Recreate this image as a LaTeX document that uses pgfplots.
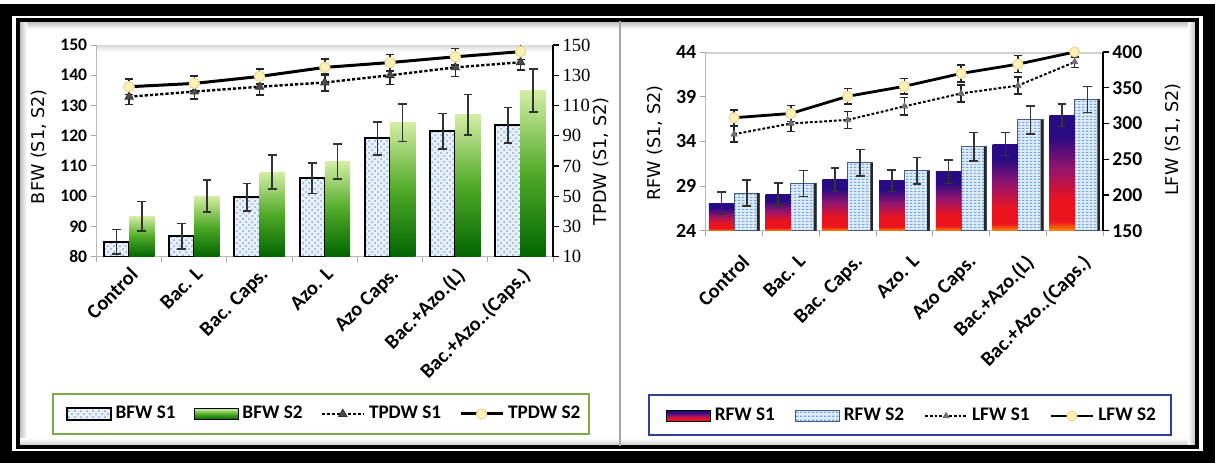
\documentclass[border=0pt]{standalone}
\usepackage{fontspec}
\setmainfont{Carlito}
\newfontfamily\dejavu{DejaVu Sans}
\newfontfamily\lserif{Liberation Serif}
\usepackage{pgfplots}
\usepackage{pgfplotstable}
\pgfplotsset{compat=1.18}
\usetikzlibrary{patterns}

\definecolor{bfwbg}{RGB}{232,240,250}
\definecolor{bfwdot}{RGB}{130,165,215}
\definecolor{gdark}{RGB}{0,100,0}
\definecolor{gmid}{RGB}{80,170,40}
\definecolor{glight}{RGB}{212,238,165}
\definecolor{rorange}{RGB}{255,140,0}
\definecolor{rred}{RGB}{235,20,30}
\definecolor{rpurple}{RGB}{150,20,110}
\definecolor{rindigo}{RGB}{40,10,130}
\definecolor{rfwbg}{RGB}{222,236,250}
\definecolor{rfwdash}{RGB}{120,165,215}
\definecolor{rfwedge}{RGB}{70,95,130}
\definecolor{mkyellow}{RGB}{255,242,185}
\definecolor{mkyedge}{RGB}{235,215,140}
\definecolor{leggreen}{RGB}{125,170,75}
\definecolor{legblue}{RGB}{45,65,150}

\pgfdeclareverticalshading{bfwshade}{100bp}{color(0bp)=(gdark); color(25bp)=(gdark); color(50bp)=(gmid); color(75bp)=(glight); color(100bp)=(glight)}
\pgfdeclareverticalshading{rfwshade}{100bp}{color(0bp)=(rorange); color(25bp)=(rorange); color(29bp)=(rred); color(38bp)=(rred); color(52bp)=(rpurple); color(66bp)=(rindigo); color(100bp)=(rindigo)}
\pgfdeclarepatternformonly{hdash}{\pgfqpoint{0pt}{0pt}}{\pgfqpoint{2.2pt}{1.7pt}}{\pgfqpoint{2.2pt}{1.7pt}}{\pgfpathrectangle{\pgfqpoint{0pt}{0pt}}{\pgfqpoint{1.3pt}{0.7pt}}\pgfusepath{fill}}

\pgfplotstableread{
x s1 e1 s2 e2
0 84.9 4.1 93.4 4.9
1 86.8 4.2 100.0 5.3
2 99.7 4.5 108.0 5.6
3 105.9 5.0 111.4 5.8
4 119.1 5.5 124.3 6.2
5 121.5 5.9 127.0 6.7
6 123.5 5.9 134.9 7.1
}\bfwtable

\pgfplotstableread{
x t1 te1 t2 te2
0 115.8 5.0 122.4 5.0
1 119.2 5.0 124.6 5.0
2 122.4 5.5 129.2 5.0
3 125.2 5.5 135.2 5.5
4 130.0 6.0 138.4 5.5
5 135.2 6.0 142.2 5.5
6 138.6 5.0 145.6 5.0
}\tpdwtable

\pgfplotstableread{
x r1 re1 r2 re2
0 27.1 1.20 28.2 1.45
1 28.1 1.25 29.3 1.45
2 29.7 1.30 31.6 1.50
3 29.6 1.20 30.7 1.50
4 30.6 1.30 33.4 1.60
5 33.7 1.30 36.4 1.55
6 36.9 1.25 38.7 1.45
}\rfwtable

\pgfplotstableread{
x l1 le1 l2 le2
0 285 11 308 11
1 300 11 314 11
2 305 12 338 11
3 324 12 352 11
4 342 12 370 12
5 353 12 383 12
6 386 8 400 8
}\lfwtable

\pgfplotsset{
  barleg/.style={legend image code/.code={\draw[##1] (0pt,-2.8pt) rectangle (22pt,2.8pt);}},
  lineleg/.style={legend image code/.code={\draw[##1,mark repeat=2,mark phase=2] plot coordinates {(0pt,0pt) (10.5pt,0pt) (21pt,0pt)};}},
  bfw1/.style={ybar, bar width=0.386, bar shift=0pt, draw=black, line width=1pt, preaction={fill=bfwbg}, pattern=crosshatch dots, pattern color=bfwdot},
  bfw2/.style={ybar, bar width=0.386, bar shift=0pt, draw=none, shade, shading=bfwshade},
  rfw1/.style={ybar, bar width=0.445, bar shift=0pt, draw=none, shade, shading=rfwshade},
  rfw2/.style={ybar, bar width=0.445, bar shift=0pt, draw=rfwedge, line width=0.5pt, preaction={fill=rfwbg}, pattern=hdash, pattern color=rfwdash},
  errb/.style={forget plot, draw=none, mark=none, error bars/.cd, y dir=both, y explicit,
     error bar style={line width=0.8pt, draw=black!80, solid},
     error mark options={rotate=90, mark size=2.2pt, line width=0.8pt, draw=black!80}},
  lerr/.style={error bars/.cd, y dir=both, y explicit,
     error bar style={solid, line width=0.7pt, draw=black!85},
     error mark options={rotate=90, mark size=2pt, solid, line width=0.7pt, draw=black!85}},
  tp1/.style={black, line width=1.2pt, dash pattern=on 1.6pt off 1pt, mark=triangle*, mark size=2.4pt, mark options={solid, fill=black!70, draw=black!80, line width=0.4pt}},
  tp2/.style={black, line width=1.5pt, solid, mark=*, mark size=2.6pt, mark options={fill=mkyellow, draw=mkyedge, line width=0.5pt}},
  lf1/.style={black, line width=1pt, dash pattern=on 1.4pt off 1pt, mark=triangle*, mark size=1.8pt, mark options={solid, fill=black!55, draw=black!60, line width=0.3pt}},
  lf2/.style={black, line width=1.4pt, solid, mark=*, mark size=2.5pt, mark options={fill=mkyellow, draw=mkyedge, line width=0.5pt}},
  leftbox/.style={at={(48.25pt,102.65pt)}, anchor=south west, width=228.35pt, height=105.85pt, scale only axis, xmin=-0.5, xmax=6.5},
  rightbox/.style={at={(352.85pt,115.65pt)}, anchor=south west, width=198.7pt, height=89.35pt, scale only axis, xmin=-0.5, xmax=6.5},
}

\begin{document}
\begin{tikzpicture}
\useasboundingbox (0,0) rectangle (607.5pt,231pt);
\fill[white] (0,0) rectangle (607.5pt,231pt);
\begin{scope}[x=0.5pt,y=-0.5pt,shift={(0pt,231pt)}]
  \shade[top color=gray!55, bottom color=white] (19,21) rectangle (1196,29);
  \shade[left color=gray!55, right color=white] (19,21) rectangle (27,446);
  \shade[bottom color=gray!45, top color=white] (19,438) rectangle (1196,446);
  \shade[right color=gray!55, left color=white] (1188,21) rectangle (1196,446);
  \shade[top color=gray!30, bottom color=white] (97,45) rectangle (553,52);
  \draw[gray!35, line width=0.6pt] (706,53) -- (1103,53);
\end{scope}

% ---------------- left panel: BFW axis + S1 bars ----------------
\begin{axis}[
  leftbox, ymin=80, ymax=150,
  axis y line*=left, axis x line*=bottom,
  axis line style={draw=gray!55, line width=0.6pt},
  ytick={80,90,...,150},
  xtick={0,...,6},
  xticklabels={Control,Bac. L,Bac. Caps.,Azo. L,Azo Caps.,Bac.+Azo.(L),Bac.+Azo..(Caps.)},
  minor xtick={-0.5,0.5,...,6.5},
  tick align=outside, major tick length=3pt, minor tick length=2.5pt,
  tick style={gray!70, line width=0.5pt},
  major x tick style={draw=none},
  /pgf/number format/assume math mode=true,
  yticklabel style={font=\bfseries\fontsize{8.8}{10}\selectfont, inner sep=1.5pt},
  xticklabel style={rotate=45, anchor=north east, font=\bfseries\fontsize{10.2}{12}\selectfont, inner sep=1pt},
  every axis y label/.style={at={(axis description cs:-0.126,0.52)}, rotate=90, anchor=center, font=\dejavu\fontsize{8.8}{10}\selectfont},
  ylabel={BFW (S1, S2)},
  legend columns=4,
  legend style={at={(axis description cs:0.5003,-0.743)}, anchor=center, draw=none, fill=none,
    font=\bfseries\fontsize{9.6}{11}\selectfont, /tikz/every even column/.append style={column sep=7pt}},
]
\addplot[bfw1, barleg] table[x expr=\thisrow{x}-0.193, y=s1] {\bfwtable};
\addlegendentry{BFW S1}
\addlegendimage{bfw2, barleg}
\addlegendentry{BFW S2}
\addlegendimage{tp1, lineleg}
\addlegendentry{TPDW S1}
\addlegendimage{tp2, lineleg}
\addlegendentry{TPDW S2}
\end{axis}

% overlay: shaded S2 bars (one path per bar) from the lower limit (80), and all bar error bars
\begin{axis}[leftbox, ymin=0, ymax=70, hide axis]
\pgfplotsinvokeforeach{0.1:0.3,1.1:1.3,2.1:2.3,3.1:3.3,4.1:4.3,5.1:5.3,6.1:6.3}{
  \addplot[bfw2, forget plot, restrict x to domain=#1] table[x expr=\thisrow{x}+0.193, y expr=\thisrow{s2}-80] {\bfwtable};
}
\addplot[errb] table[x expr=\thisrow{x}-0.193, y expr=\thisrow{s1}-80, y error=e1] {\bfwtable};
\addplot[errb] table[x expr=\thisrow{x}+0.193, y expr=\thisrow{s2}-80, y error=e2] {\bfwtable};
\end{axis}

% ---------------- left panel: TPDW lines ----------------
\begin{axis}[
  leftbox, ymin=10, ymax=150,
  axis y line*=right, axis x line=none,
  axis line style={draw=black, line width=1.2pt},
  ytick={10,30,...,150},
  tick align=outside, major tick length=3pt, tick style={black, line width=0.6pt},
  /pgf/number format/assume math mode=true,
  yticklabel style={font=\lserif\fontsize{9.3}{10}\selectfont, inner sep=1.5pt},
  every axis y label/.style={at={(axis description cs:1.105,0.45)}, rotate=90, anchor=center, font=\dejavu\fontsize{8.8}{10}\selectfont},
  ylabel={TPDW (S1, S2)},
]
\addplot[tp1, lerr] table[x=x, y=t1, y error=te1] {\tpdwtable};
\addplot[tp2, lerr] table[x=x, y=t2, y error=te2] {\tpdwtable};
\end{axis}

% ---------------- right panel: RFW axis + S2 bars ----------------
\begin{axis}[
  rightbox, ymin=24, ymax=44,
  axis y line*=left, axis x line*=bottom,
  axis line style={draw=gray!55, line width=0.6pt},
  ytick={24,29,...,44},
  xtick={0,...,6},
  xticklabels={Control,Bac. L,Bac. Caps.,Azo. L,Azo Caps.,Bac.+Azo.(L),Bac.+Azo..(Caps.)},
  minor xtick={-0.5,0.5,...,6.5},
  tick align=outside, major tick length=3pt, minor tick length=2.5pt,
  tick style={gray!70, line width=0.5pt},
  major x tick style={draw=none},
  /pgf/number format/assume math mode=true,
  yticklabel style={font=\bfseries\fontsize{10}{11}\selectfont, inner sep=1.5pt},
  xticklabel style={rotate=45, anchor=north east, font=\bfseries\fontsize{10.2}{12}\selectfont, inner sep=1pt, yshift=-7pt, xshift=-2.5pt},
  every axis y label/.style={at={(axis description cs:-0.1276,0.49)}, rotate=90, anchor=center, font=\dejavu\fontsize{8.8}{10}\selectfont},
  ylabel={RFW (S1, S2)},
  legend columns=4,
  legend style={at={(axis description cs:0.5214,-1.037)}, anchor=center, draw=none, fill=none,
    font=\bfseries\fontsize{9.6}{11}\selectfont, /tikz/every even column/.append style={column sep=8pt}},
]
\addlegendimage{rfw1, barleg}
\addlegendentry{RFW S1}
\addplot[rfw2, barleg] table[x expr=\thisrow{x}+0.2225, y=r2] {\rfwtable};
\addlegendentry{RFW S2}
\addplot[forget plot, ybar, bar width=0.045, bar shift=0pt, fill=black!85, draw=none] table[x expr=\thisrow{x}+0.4225, y=r2] {\rfwtable};
\addlegendimage{lf1, lineleg}
\addlegendentry{LFW S1}
\addlegendimage{lf2, lineleg}
\addlegendentry{LFW S2}
\end{axis}

% overlay: shaded S1 bars (one path per bar) from the lower limit (24), and all bar error bars
\begin{axis}[rightbox, ymin=0, ymax=20, hide axis]
\pgfplotsinvokeforeach{-0.3:-0.1,0.7:0.9,1.7:1.9,2.7:2.9,3.7:3.9,4.7:4.9,5.7:5.9}{
  \addplot[rfw1, forget plot, restrict x to domain=#1] table[x expr=\thisrow{x}-0.2225, y expr=\thisrow{r1}-24] {\rfwtable};
}
\addplot[errb] table[x expr=\thisrow{x}-0.2225, y expr=\thisrow{r1}-24, y error=re1] {\rfwtable};
\addplot[errb] table[x expr=\thisrow{x}+0.2225, y expr=\thisrow{r2}-24, y error=re2] {\rfwtable};
\end{axis}

% ---------------- right panel: LFW lines ----------------
\begin{axis}[
  rightbox, ymin=150, ymax=400,
  axis y line*=right, axis x line=none,
  axis line style={draw=black, line width=1.2pt},
  ytick={150,200,...,400},
  tick align=outside, major tick length=3pt, tick style={black, line width=0.6pt},
  /pgf/number format/assume math mode=true,
  yticklabel style={font=\bfseries\fontsize{9.8}{11}\selectfont, inner sep=1.5pt},
  every axis y label/.style={at={(axis description cs:1.1747,0.51)}, rotate=90, anchor=center, font=\dejavu\fontsize{8.8}{10}\selectfont},
  ylabel={LFW (S1, S2)},
]
\addplot[lf1, lerr] table[x=x, y=l1, y error=le1] {\lfwtable};
\addplot[lf2, lerr] table[x=x, y=l2, y error=le2] {\lfwtable};
\end{axis}

\begin{scope}[x=0.5pt,y=-0.5pt,shift={(0pt,231pt)}]
  \draw[black, line width=6pt] (6,10) rectangle (1209,457);
  \draw[black, line width=2pt] (18,20) rectangle (1197,447);
  \draw[gray!70, line width=0.8pt] (620,21) -- (620,446);
  \draw[leggreen, line width=1pt] (52.5,394) rectangle (589.4,434);
  \draw[legblue, line width=1pt] (648.6,395) rectangle (1171.4,435);
\end{scope}
\end{tikzpicture}
\end{document}
